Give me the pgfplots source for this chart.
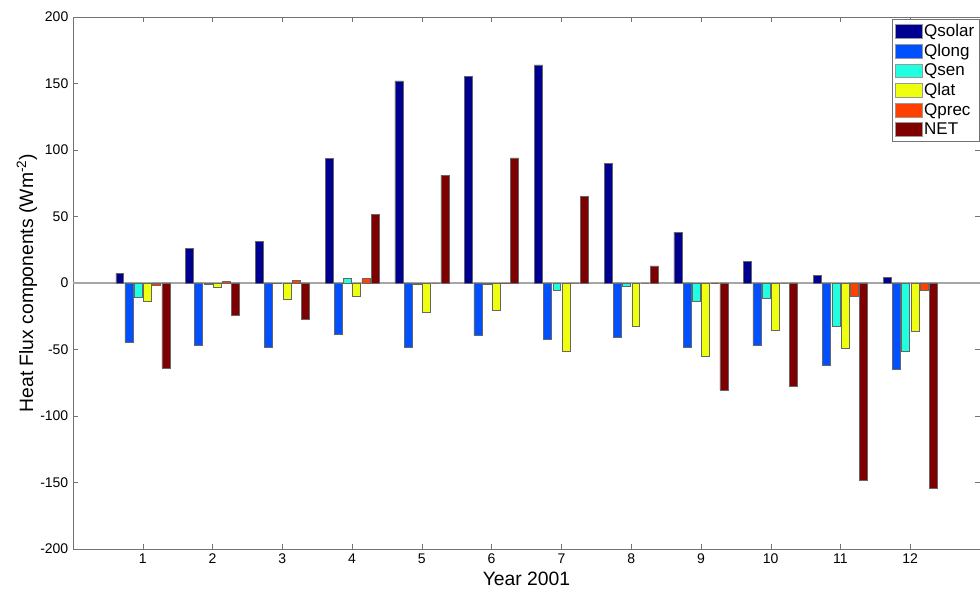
\documentclass[border=0pt]{standalone}
\usepackage{fontspec}
\setmainfont{Liberation Sans}
\usepackage{pgfplots}
\pgfplotsset{compat=1.18}

\definecolor{csolar}{HTML}{000090}
\definecolor{clong}{HTML}{0050FF}
\definecolor{csen}{HTML}{20FFDF}
\definecolor{clat}{HTML}{EFFF10}
\definecolor{cprec}{HTML}{FF4000}
\definecolor{cnet}{HTML}{7F0000}

\pgfplotsset{
  fluxbar/.style={ybar, bar width=0.114, fill=#1, draw=black!60, line width=0.4pt,
    legend image code/.code={\draw[##1, draw=black!40] (0pt,-5.2pt) rectangle (20pt,5.2pt);}},
}

\begin{document}
\begin{tikzpicture}
\useasboundingbox (0,0) rectangle (735pt,441pt);
\begin{axis}[
    at={(54.75pt,29.25pt)}, anchor=south west,
    scale only axis,
    width=680.25pt, height=399pt,
    xmin=0, xmax=13,
    ymin=-200, ymax=200,
    xtick={1,...,12},
    ytick={-200,-150,...,200},
    tick align=inside,
    major tick length=3.75pt,
    axis line style={black!55},
    tick style={black!55},
    tick label style={font=\fontsize{10.5}{12}\selectfont},
    /pgf/number format/assume math mode=true,
    xlabel={Year 2001},
    ylabel={Heat Flux components (Wm\textsuperscript{-2})},
    label style={font=\fontsize{14.5}{16}\selectfont},
    xlabel style={at={(axis description cs:0.5,-0.056)}, anchor=center},
    ylabel style={at={(axis description cs:-0.0507,0.5)}, anchor=center},
    extra y ticks={0}, extra y tick labels={},
    extra y tick style={grid=major, major grid style={black!35, line width=0.9pt}, tick style={draw=none}},
    legend cell align=left,
    legend style={at={(0.903,0.996)}, anchor=north west, draw=black!55,
      font=\fontsize{12.75}{15}\selectfont, row sep=1.2pt, inner sep=2pt,
      nodes={inner sep=1.5pt}},
  ]
  \addplot[fluxbar=csolar, bar shift=-0.33] coordinates {
    (1,7.3) (2,26) (3,31.3) (4,93.7) (5,152) (6,155.4)
    (7,164) (8,90) (9,38) (10,16.3) (11,5.8) (12,4.3)};
  \addplot[fluxbar=clong, bar shift=-0.198] coordinates {
    (1,-44.4) (2,-47) (3,-48.6) (4,-38.6) (5,-48) (6,-39.3)
    (7,-42.6) (8,-40.8) (9,-48.6) (10,-47) (11,-61.9) (12,-64.9)};
  \addplot[fluxbar=csen, bar shift=-0.066] coordinates {
    (1,-11) (2,-1) (3,-0.5) (4,3.5) (5,-1) (6,-1)
    (7,-5.3) (8,-2.5) (9,-13.8) (10,-11.5) (11,-32.6) (12,-51.6)};
  \addplot[fluxbar=clat, bar shift=0.066] coordinates {
    (1,-14) (2,-3) (3,-12.5) (4,-10) (5,-21.8) (6,-20.8)
    (7,-51) (8,-32.8) (9,-55) (10,-35.3) (11,-49.1) (12,-36.3)};
  \addplot[fluxbar=cprec, bar shift=0.198] coordinates {
    (1,-1.8) (2,1.3) (3,2.2) (4,3.5) (5,0) (6,-0.5)
    (7,0) (8,0) (9,-0.5) (10,0) (11,-10) (12,-5.5)};
  \addplot[fluxbar=cnet, bar shift=0.33] coordinates {
    (1,-64) (2,-24.3) (3,-27.3) (4,51.6) (5,81) (6,94)
    (7,65) (8,12.8) (9,-80.5) (10,-77.7) (11,-148.6) (12,-154.4)};
  \legend{Qsolar,Qlong,Qsen,Qlat,Qprec,NET}
\end{axis}
\end{tikzpicture}
\end{document}
